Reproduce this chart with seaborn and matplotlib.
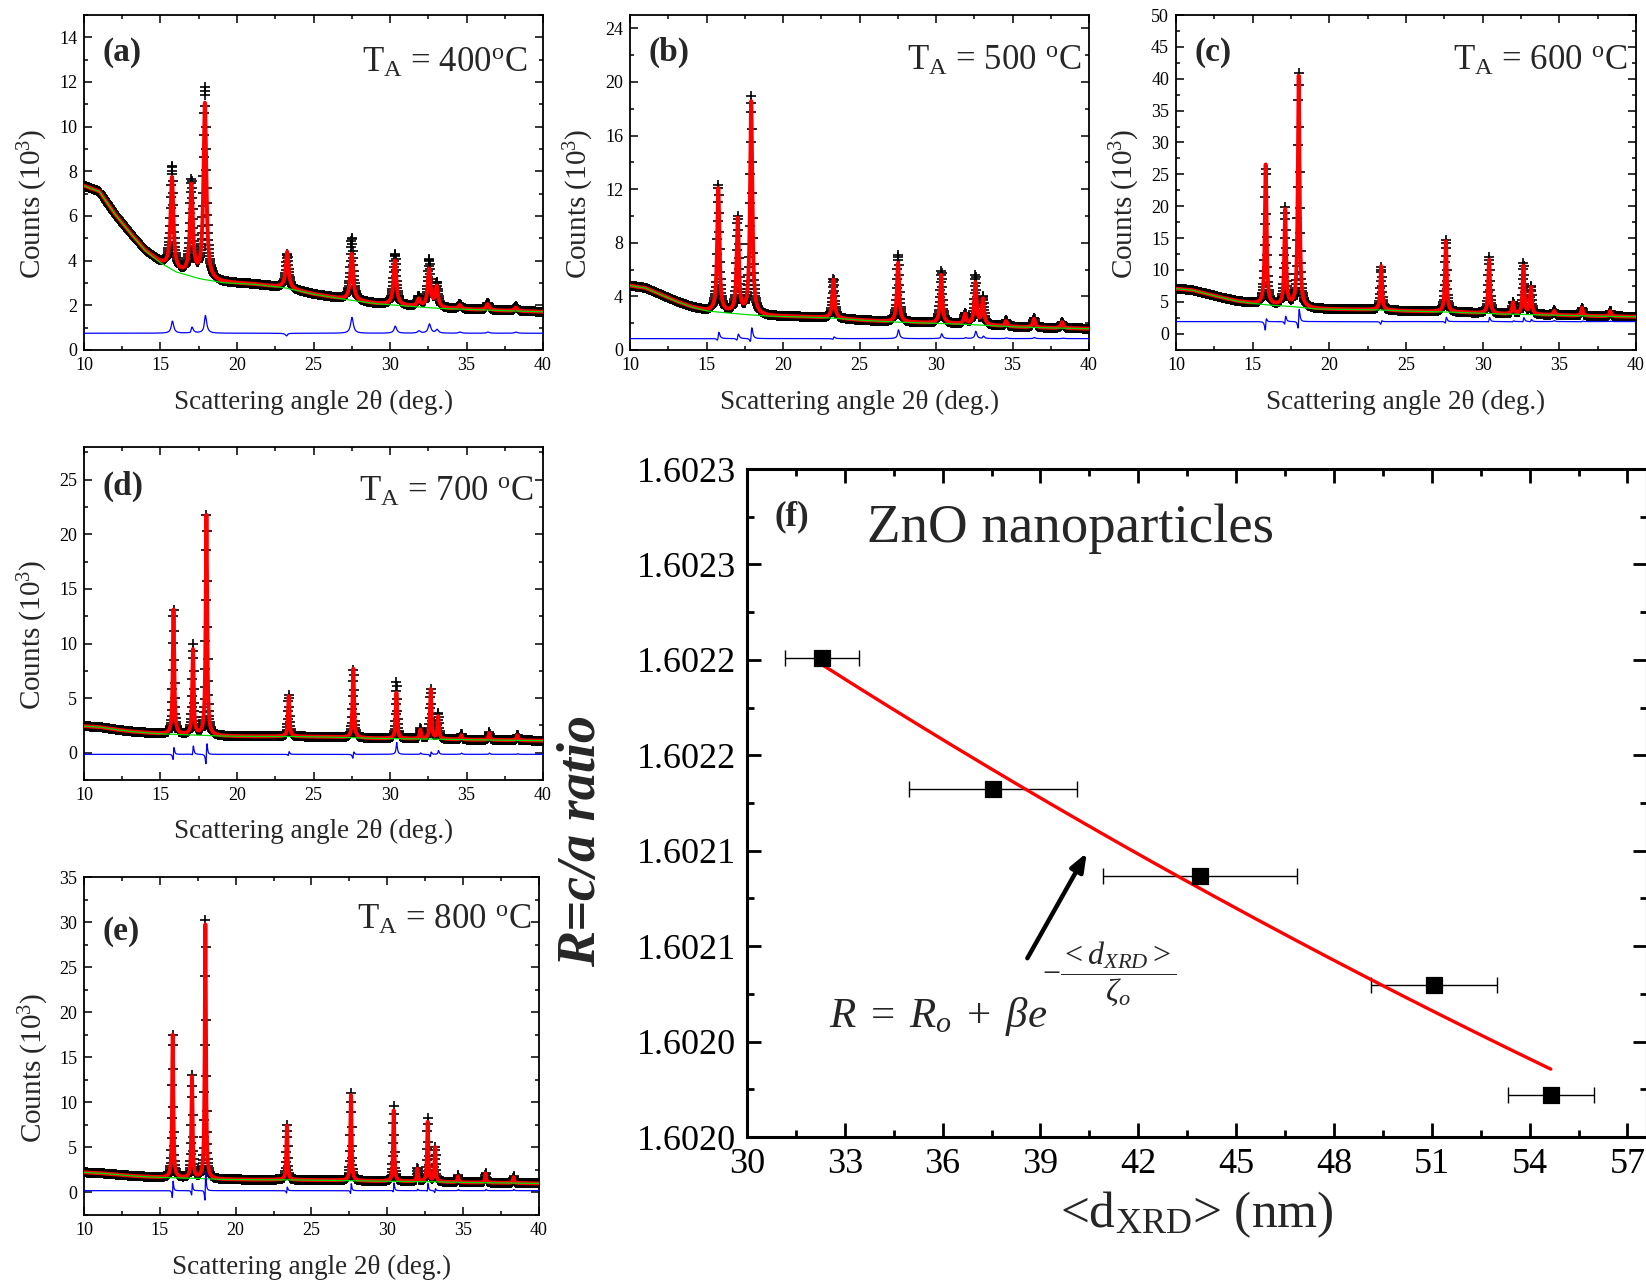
import numpy as np
import pandas as pd
import matplotlib
matplotlib.use("Agg")
import matplotlib.pyplot as plt
import seaborn as sns
from matplotlib.ticker import MultipleLocator, FixedLocator, FixedFormatter

# ---------------------------------------------------------------------------
# XRD patterns of ZnO nanoparticles (counts in units of 10^3)
# ---------------------------------------------------------------------------
scan_start, scan_stop, scan_step = 10.0, 40.0, 0.02

# Bragg reflections (2-theta, deg)
peak_pos = [15.85, 17.12, 18.0, 23.38, 27.6, 30.42, 31.98, 32.66, 33.15, 34.66, 36.48, 38.32]

# refined background knots
bg_knots = [10, 11, 12, 13, 14, 15, 16, 17.5, 19, 21, 23, 25, 27, 29, 31, 33, 35, 37, 40]
bg_a = [7.35, 7.1, 6.1, 5.25, 4.45, 3.9, 3.5, 3.2, 3.02, 2.95, 2.8, 2.5, 2.27, 2.08, 1.97, 1.87, 1.82, 1.77, 1.71]
bg_b = [4.8, 4.63, 4.14, 3.64, 3.22, 2.92, 2.8, 2.65, 2.53, 2.48, 2.4, 2.23, 2.1, 2.03, 1.96, 1.86, 1.73, 1.66, 1.59]
bg_c = [7.05, 6.85, 6.26, 5.64, 5.1, 4.75, 4.5, 4.28, 3.9, 3.8, 3.75, 3.55, 3.45, 3.3, 3.1, 3.0, 2.9, 2.77, 2.65]
bg_d = [2.43, 2.35, 2.13, 1.95, 1.83, 1.73, 1.67, 1.61, 1.52, 1.49, 1.49, 1.46, 1.4, 1.31, 1.28, 1.25, 1.19, 1.16, 1.1]
bg_e = [2.23, 2.15, 2.0, 1.86, 1.75, 1.67, 1.63, 1.56, 1.45, 1.41, 1.41, 1.37, 1.34, 1.26, 1.23, 1.19, 1.11, 1.08, 1.0]

# peak maxima: calculated (Rietveld fit) and observed
calc_a = [7.7, 7.3, 11.0, 4.4, 4.3, 4.0, 2.25, 3.6, 2.8, 2.0, 2.05, 1.9]
obs_a = [8.2, 7.5, 11.7, 4.3, 5.0, 4.3, 2.35, 4.0, 2.95, 2.05, 2.1, 1.95]
calc_b = [12.06, 9.7, 18.5, 5.25, 6.5, 5.6, 2.65, 5.0, 3.76, 2.15, 2.33, 2.08]
obs_b = [12.3, 9.85, 18.9, 5.3, 7.1, 5.9, 2.7, 5.5, 3.9, 2.2, 2.4, 2.1]
calc_c = [26.5, 19.3, 40.4, 10.6, 14.5, 11.6, 4.85, 10.6, 7.2, 3.55, 4.07, 3.55]
obs_c = [25.9, 19.6, 41.0, 10.4, 14.8, 12.0, 4.9, 11.0, 7.4, 3.7, 4.1, 3.6]
calc_d = [13.1, 9.4, 21.75, 5.2, 7.7, 5.5, 2.1, 5.8, 3.3, 1.6, 1.8, 1.6]
obs_d = [13.2, 9.9, 21.8, 5.3, 7.6, 6.5, 2.2, 5.8, 3.6, 1.7, 1.9, 1.65]
calc_e = [17.5, 12.8, 29.7, 7.4, 10.8, 9.1, 2.6, 7.8, 5.0, 1.8, 2.1, 1.7]
obs_e = [17.7, 13.0, 30.4, 7.5, 11.1, 9.6, 2.7, 8.3, 5.0, 1.9, 2.2, 1.8]

# peak width (FWHM, deg), zero shift (deg) and offset of the difference curve
fwhm = {"a": 0.22, "b": 0.17, "c": 0.13, "d": 0.11, "e": 0.09}
zero_shift = {"a": -0.1, "b": -0.08, "c": 0.0, "d": 0.0, "e": 0.0}
obs_shift = 0.004
diff_offset = {"a": 0.75, "b": 0.85, "c": 1.9, "d": -0.15, "e": 0.2}

anneal_labels = {"a": "400$^{\\rm o}$C", "b": "500 $^{\\rm o}$C", "c": "600 $^{\\rm o}$C",
                 "d": "700 $^{\\rm o}$C", "e": "800 $^{\\rm o}$C"}

# ---------------------------------------------------------------------------
# c/a ratio versus crystallite size
# ---------------------------------------------------------------------------
d_xrd = [32.3, 37.55, 43.9, 51.07, 54.65]
d_xrd_err = [1.12, 2.58, 2.98, 1.93, 1.32]
ca_ratio = [1.6022509, 1.6021822, 1.6021370, 1.6020798, 1.6020220]
# exponential fit R = R0 + beta * exp(-d / zeta0)
fit_R0, fit_beta, fit_zeta0 = 1.601378, 0.001302, 80.0
r_ticks = [1.60200, 1.60205, 1.60210, 1.60215, 1.60220, 1.60225, 1.60230, 1.60235]
r_tick_labels = ["1.6020", "1.6020", "1.6021", "1.6021", "1.6022", "1.6022", "1.6023", "1.6023"]
d_ticks = [30, 33, 36, 39, 42, 45, 48, 51, 54, 57]

# ---------------------------------------------------------------------------
sns.set_theme(style="ticks")
plt.rcParams["font.family"] = ["Liberation Serif", "DejaVu Serif"]
plt.rcParams["mathtext.fontset"] = "custom"
plt.rcParams["mathtext.rm"] = "Liberation Serif"
plt.rcParams["mathtext.it"] = "Liberation Serif:italic"
plt.rcParams["mathtext.bf"] = "Liberation Serif:bold"
plt.rcParams["axes.edgecolor"] = "black"
plt.rcParams["xtick.color"] = "black"
plt.rcParams["ytick.color"] = "black"

W, H = 1646, 1282
fig = plt.figure(figsize=(W / 100, H / 100), dpi=100)
fig.patch.set_facecolor("white")


def add_axes_px(left, top, right, bottom):
    return fig.add_axes([left / W, 1 - bottom / H, (right - left) / W, (bottom - top) / H])


def lorentz(x, x0, w):
    return 1.0 / (1.0 + ((x - x0) / (0.5 * w)) ** 2)


def profile(x, bg, tops, w, shift):
    base = np.interp(x, bg_knots, bg)
    y = base.copy()
    for p, t in zip(peak_pos, tops):
        amp = t - np.interp(p + shift, bg_knots, bg)
        y += amp * lorentz(x, p + shift, w)
    return base, y


panels = {
    "a": dict(box=(84, 15, 543, 350), bg=bg_a, calc=calc_a, obs=obs_a, ylim=(0, 15), major=2, minor=1,
              letter_y=0.887, temp_x=0.966, temp_y=0.83),
    "b": dict(box=(630, 15, 1089, 350), bg=bg_b, calc=calc_b, obs=obs_b, ylim=(0, 25), major=4, minor=2,
              letter_y=0.887, temp_x=0.984, temp_y=0.836),
    "c": dict(box=(1176, 15, 1636, 350), bg=bg_c, calc=calc_c, obs=obs_c, ylim=(-2.56, 50), major=5, minor=2.5,
              letter_y=0.887, temp_x=0.982, temp_y=0.836),
    "d": dict(box=(84, 447, 543, 780), bg=bg_d, calc=calc_d, obs=obs_d, ylim=(-2.5, 28), major=5, minor=2.5,
              letter_y=0.883, temp_x=0.979, temp_y=0.839),
    "e": dict(box=(84, 877, 539, 1215), bg=bg_e, calc=calc_e, obs=obs_e, ylim=(-2.5, 35), major=5, minor=2.5,
              letter_y=0.838, temp_x=0.984, temp_y=0.847),
}

x_obs = np.arange(scan_start, scan_stop + scan_step / 2, scan_step)
x_fine = np.arange(scan_start, scan_stop + 0.001, 0.004)

for key, p in panels.items():
    ax = add_axes_px(*p["box"])
    w, sh = fwhm[key], zero_shift[key]
    _, y_obs = profile(x_obs, p["bg"], p["obs"], w, sh + obs_shift)
    _, y_calc_obs = profile(x_obs, p["bg"], p["calc"], w, sh)
    base_fine, y_calc = profile(x_fine, p["bg"], p["calc"], w, sh)
    y_diff = y_obs - y_calc_obs + diff_offset[key]

    sns.scatterplot(x=x_obs, y=y_obs, marker="+", s=44, color="black", linewidth=1.2,
                    ax=ax, legend=False, zorder=2)
    sns.lineplot(x=x_fine, y=y_calc, color="#ff0000", lw=2.8, ax=ax, estimator=None, sort=False, zorder=3)
    sns.lineplot(x=x_fine, y=base_fine, color="#00dd00", lw=0.9, ax=ax, estimator=None, sort=False, zorder=4)
    sns.lineplot(x=x_obs, y=y_diff, color="#0000ff", lw=0.9, ax=ax, estimator=None, sort=False, zorder=4)

    ax.set_xlim(10, 40)
    ax.set_ylim(*p["ylim"])
    ax.xaxis.set_major_locator(MultipleLocator(5))
    ax.xaxis.set_minor_locator(MultipleLocator(2.5))
    ax.yaxis.set_major_locator(MultipleLocator(p["major"]))
    ax.yaxis.set_minor_locator(MultipleLocator(p["minor"]))
    ax.tick_params(which="both", direction="in", top=True, right=True, labelsize=13, width=1.1, pad=5)
    ax.tick_params(which="major", length=5.5)
    ax.tick_params(which="minor", length=3)
    for s in ax.spines.values():
        s.set_linewidth(1.3)
        s.set_visible(True)

    ax.set_xlabel("Scattering angle 2θ (deg.)", fontsize=19.5)
    ax.set_ylabel("Counts (10$^3$)", fontsize=21)
    ax.xaxis.set_label_coords(0.5, -0.118)
    ax.yaxis.set_label_coords(-0.073, 0.435)

    ax.text(0.04, p["letter_y"], f"({key})", transform=ax.transAxes, fontsize=24, fontweight="bold",
            ha="left", va="center")
    ax.text(p["temp_x"], p["temp_y"], "T$_{\\rm A}$ = " + anneal_labels[key], transform=ax.transAxes,
            fontsize=25, ha="right", va="baseline")

# ---------------------------------------------------------------------------
# panel (f)
# ---------------------------------------------------------------------------
axf = add_axes_px(747, 469, 1647, 1137)
ca_df = pd.DataFrame({"d": d_xrd, "R": ca_ratio, "err": d_xrd_err})

axf.errorbar(ca_df["d"], ca_df["R"], xerr=ca_df["err"], fmt="none", ecolor="black",
             elinewidth=1.0, capsize=6, capthick=1.0, zorder=2)
sns.scatterplot(data=ca_df, x="d", y="R", marker="s", s=120, color="black", edgecolor="black",
                ax=axf, legend=False, zorder=4)

d_fit = np.linspace(d_xrd[0], d_xrd[-1], 200)
r_fit = fit_R0 + fit_beta * np.exp(-d_fit / fit_zeta0)
sns.lineplot(x=d_fit, y=r_fit, color="#ff0000", lw=2.4, ax=axf, estimator=None, sort=False, zorder=3)

axf.set_xlim(30, 57.6)
axf.set_ylim(r_ticks[0], r_ticks[-1])
axf.xaxis.set_major_locator(FixedLocator(d_ticks))
axf.xaxis.set_minor_locator(MultipleLocator(1.5))
axf.yaxis.set_major_locator(FixedLocator(r_ticks))
axf.yaxis.set_major_formatter(FixedFormatter(r_tick_labels))
axf.yaxis.set_minor_locator(MultipleLocator(0.000025))
axf.tick_params(which="both", direction="in", top=True, right=True, labelsize=26, width=2, pad=8)
axf.tick_params(which="major", length=10)
axf.tick_params(which="minor", length=5)
for s in axf.spines.values():
    s.set_linewidth(2.2)
    s.set_visible(True)

axf.set_xlabel("<d$_{\\rm XRD}$> (nm)", fontsize=37)
axf.xaxis.set_label_coords(0.5, -0.078)
axf.set_ylabel("R=c/a ratio", fontsize=39, fontstyle="italic", fontweight="bold")
axf.yaxis.set_label_coords(-0.156, 0.443)

axf.text(0.03, 0.929, "(f)", transform=axf.transAxes, fontsize=25, fontweight="bold", ha="left", va="center")
axf.text(0.133, 0.89, "ZnO nanoparticles", transform=axf.transAxes, fontsize=39.5, ha="left", va="baseline")
axf.text(0.0907, 0.164, r"$R\;=\;R_o\;+\;\beta e$", transform=axf.transAxes, fontsize=31,
         ha="left", va="baseline")
axf.text(0.328, 0.244, r"$-\dfrac{<d_{XRD}>}{\zeta_o}$", transform=axf.transAxes, fontsize=23,
         ha="left", va="center")
axf.annotate("", xy=(0.379, 0.429), xytext=(0.310, 0.264), xycoords="axes fraction",
             arrowprops=dict(arrowstyle="-|>,head_length=0.9,head_width=0.35", lw=3.2, color="black"))

fig.savefig("out.png", dpi=100, facecolor="white")
